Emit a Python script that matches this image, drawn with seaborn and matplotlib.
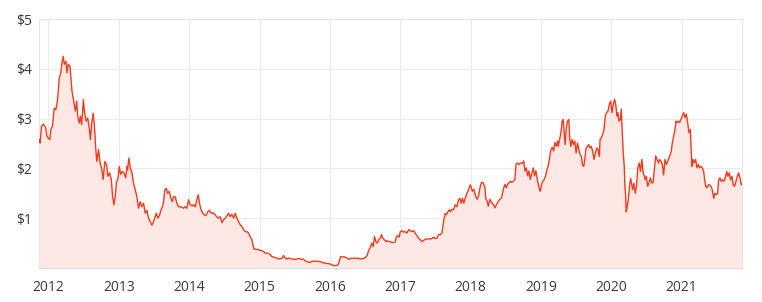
import matplotlib
matplotlib.use("Agg")
import matplotlib.pyplot as plt
import seaborn as sns
import pandas as pd

# decimal years
years = [
    2011.867, 2011.881, 2011.900, 2011.928, 2011.962, 2011.976, 2011.995, 2012.019, 2012.033, 2012.057,
    2012.081, 2012.105, 2012.129, 2012.153, 2012.176, 2012.191, 2012.210, 2012.224, 2012.248, 2012.262,
    2012.281, 2012.305, 2012.320, 2012.334, 2012.358, 2012.382, 2012.401, 2012.415, 2012.439, 2012.453,
    2012.472, 2012.496, 2012.510, 2012.534, 2012.558, 2012.582, 2012.596, 2012.615, 2012.634, 2012.653,
    2012.672, 2012.687, 2012.711, 2012.734, 2012.758, 2012.777, 2012.801, 2012.825, 2012.844, 2012.868,
    2012.892, 2012.911, 2012.930, 2012.949, 2012.968, 2012.987, 2013.006, 2013.025, 2013.049, 2013.073,
    2013.097, 2013.116,
    2013.124, 2013.143, 2013.162, 2013.186, 2013.209, 2013.233, 2013.257, 2013.280, 2013.304, 2013.328,
    2013.351, 2013.375, 2013.399, 2013.422, 2013.446, 2013.470, 2013.493, 2013.517, 2013.531, 2013.555,
    2013.579, 2013.598, 2013.621, 2013.635, 2013.654, 2013.673, 2013.692, 2013.716, 2013.740, 2013.759,
    2013.777, 2013.801, 2013.825, 2013.848, 2013.872, 2013.896, 2013.920, 2013.943, 2013.967, 2013.991,
    2014.014, 2014.038, 2014.062, 2014.085, 2014.109, 2014.128, 2014.147, 2014.170, 2014.194, 2014.218,
    2014.241, 2014.265, 2014.289, 2014.313, 2014.336,
    2014.347, 2014.370, 2014.394, 2014.418, 2014.441, 2014.465, 2014.489, 2014.512, 2014.536, 2014.560,
    2014.583, 2014.607, 2014.631, 2014.654, 2014.678, 2014.702, 2014.725, 2014.749, 2014.773, 2014.796,
    2014.820, 2014.844, 2014.867, 2014.891, 2014.905, 2014.920, 2014.938, 2014.962, 2014.986, 2015.009,
    2015.033, 2015.057, 2015.080, 2015.104, 2015.128, 2015.152, 2015.175, 2015.199, 2015.223, 2015.246,
    2015.270, 2015.294, 2015.317, 2015.341, 2015.365, 2015.388, 2015.412, 2015.436, 2015.459, 2015.483,
    2015.507, 2015.530, 2015.554,
    2015.574, 2015.598, 2015.621, 2015.645, 2015.669, 2015.692, 2015.716, 2015.740, 2015.763, 2015.787,
    2015.811, 2015.834, 2015.858, 2015.882, 2015.905, 2015.929, 2015.953, 2015.976, 2016.000, 2016.024,
    2016.047, 2016.071, 2016.095, 2016.118, 2016.133, 2016.152, 2016.175, 2016.199, 2016.223, 2016.246,
    2016.270, 2016.294, 2016.317, 2016.341, 2016.365, 2016.388, 2016.412, 2016.436, 2016.459, 2016.483,
    2016.507, 2016.530, 2016.545, 2016.559, 2016.578, 2016.597, 2016.616, 2016.634, 2016.653, 2016.672,
    2016.696, 2016.715, 2016.734, 2016.753, 2016.772, 2016.795,
    2016.811, 2016.834, 2016.858, 2016.882, 2016.905, 2016.929, 2016.943, 2016.962, 2016.986, 2017.000,
    2017.024, 2017.047, 2017.071, 2017.095, 2017.118, 2017.142, 2017.166, 2017.189, 2017.213, 2017.237,
    2017.260, 2017.284, 2017.308, 2017.331, 2017.355, 2017.379, 2017.402, 2017.426, 2017.450, 2017.473,
    2017.497, 2017.521, 2017.545, 2017.568, 2017.592, 2017.606, 2017.620, 2017.639, 2017.658, 2017.677,
    2017.696, 2017.715, 2017.734, 2017.758, 2017.781, 2017.805, 2017.829, 2017.848, 2017.866, 2017.885,
    2017.904, 2017.923, 2017.947, 2017.971, 2017.994, 2018.009,
    2018.024, 2018.047, 2018.071, 2018.095, 2018.118, 2018.137, 2018.156, 2018.180, 2018.204, 2018.218,
    2018.237, 2018.251, 2018.275, 2018.299, 2018.322, 2018.346, 2018.370, 2018.393, 2018.417, 2018.441,
    2018.464, 2018.488, 2018.507, 2018.526, 2018.545, 2018.564, 2018.583, 2018.607, 2018.630, 2018.645,
    2018.664, 2018.687, 2018.711, 2018.735, 2018.754, 2018.773, 2018.791, 2018.810, 2018.829, 2018.848,
    2018.867, 2018.891, 2018.910, 2018.929, 2018.948, 2018.972, 2018.991, 2019.009, 2019.028, 2019.047,
    2019.066, 2019.085, 2019.104, 2019.123, 2019.142, 2019.161, 2019.180, 2019.199, 2019.218, 2019.237,
    2019.245, 2019.264, 2019.283, 2019.302, 2019.316, 2019.330, 2019.344, 2019.358, 2019.377, 2019.396,
    2019.410, 2019.425, 2019.443, 2019.462, 2019.481, 2019.500, 2019.519, 2019.538, 2019.557, 2019.575,
    2019.590, 2019.608, 2019.623, 2019.642, 2019.660, 2019.679, 2019.698, 2019.717, 2019.736, 2019.755,
    2019.774, 2019.792, 2019.811, 2019.830, 2019.840, 2019.858, 2019.877, 2019.896, 2019.915, 2019.934,
    2019.953, 2019.972, 2019.991, 2020.009, 2020.028, 2020.047, 2020.066, 2020.080, 2020.094, 2020.108,
    2020.127, 2020.142, 2020.156, 2020.170, 2020.184, 2020.193, 2020.203, 2020.212, 2020.226, 2020.241,
    2020.259, 2020.274, 2020.288, 2020.302, 2020.321, 2020.340, 2020.358, 2020.377, 2020.396, 2020.415,
    2020.434, 2020.453, 2020.472,
    2020.479, 2020.498, 2020.517, 2020.536, 2020.555, 2020.574, 2020.593, 2020.612, 2020.631, 2020.650,
    2020.669, 2020.688, 2020.706, 2020.725, 2020.744, 2020.763, 2020.782, 2020.801, 2020.820, 2020.839,
    2020.853, 2020.867, 2020.886, 2020.905, 2020.920, 2020.934, 2020.953, 2020.972, 2020.991, 2021.009,
    2021.028, 2021.047, 2021.066, 2021.085, 2021.104, 2021.123, 2021.137, 2021.147, 2021.161, 2021.180,
    2021.199, 2021.218, 2021.237, 2021.256, 2021.275, 2021.294, 2021.313, 2021.327, 2021.341, 2021.360,
    2021.379, 2021.398, 2021.417, 2021.436, 2021.455, 2021.473, 2021.492, 2021.511, 2021.526, 2021.545,
    2021.563, 2021.582, 2021.601, 2021.620, 2021.639, 2021.658, 2021.677, 2021.696, 2021.715, 2021.734,
    2021.753, 2021.772, 2021.791, 2021.810, 2021.829, 2021.848, 2021.862,
]

# share price in dollars
prices = [
    2.58, 2.51, 2.85, 2.89, 2.81, 2.65, 2.61, 2.58, 2.78, 2.85,
    3.21, 3.18, 3.38, 3.82, 3.92, 4.12, 4.25, 4.09, 4.15, 3.92,
    4.09, 4.05, 3.78, 3.55, 3.35, 3.15, 3.35, 3.05, 2.91, 3.05,
    2.88, 3.38, 3.15, 2.95, 3.01, 2.78, 2.58, 2.91, 3.11, 2.85,
    2.38, 2.14, 2.38, 2.11, 1.98, 1.78, 2.14, 2.08, 1.84, 1.91,
    1.78, 1.44, 1.27, 1.44, 1.74, 1.78, 2.04, 1.88, 1.94, 1.91,
    1.81, 2.04,
    1.97, 2.21, 2.01, 1.91, 1.70, 1.57, 1.43, 1.20, 1.33, 1.23,
    1.30, 1.10, 1.16, 1.00, 0.93, 0.86, 0.93, 1.03, 1.10, 1.00,
    1.06, 1.16, 1.23, 1.33, 1.57, 1.60, 1.50, 1.54, 1.40, 1.33,
    1.43, 1.43, 1.30, 1.23, 1.23, 1.22, 1.20, 1.23, 1.20, 1.37,
    1.27, 1.25, 1.27, 1.23, 1.37, 1.47, 1.30, 1.16, 1.10, 1.06,
    1.06, 1.13, 1.16, 1.10, 1.11,
    1.10, 1.07, 1.02, 1.00, 1.03, 0.91, 0.97, 1.00, 1.05, 1.10,
    1.03, 1.08, 1.00, 1.10, 1.00, 0.93, 0.87, 0.83, 0.77, 0.73,
    0.73, 0.70, 0.63, 0.57, 0.47, 0.38, 0.38, 0.37, 0.37, 0.35,
    0.35, 0.33, 0.30, 0.30, 0.29, 0.27, 0.23, 0.22, 0.21, 0.20,
    0.18, 0.19, 0.19, 0.25, 0.20, 0.18, 0.20, 0.19, 0.18, 0.18,
    0.17, 0.18, 0.19,
    0.19, 0.17, 0.18, 0.15, 0.13, 0.12, 0.11, 0.13, 0.14, 0.13,
    0.14, 0.13, 0.13, 0.12, 0.10, 0.10, 0.09, 0.09, 0.08, 0.07,
    0.05, 0.05, 0.05, 0.07, 0.13, 0.23, 0.22, 0.23, 0.21, 0.20,
    0.17, 0.20, 0.19, 0.20, 0.19, 0.20, 0.19, 0.18, 0.19, 0.19,
    0.22, 0.25, 0.33, 0.37, 0.43, 0.50, 0.43, 0.63, 0.53, 0.50,
    0.57, 0.60, 0.67, 0.60, 0.57, 0.53,
    0.55, 0.53, 0.53, 0.51, 0.51, 0.53, 0.62, 0.65, 0.62, 0.73,
    0.75, 0.72, 0.73, 0.70, 0.77, 0.75, 0.73, 0.75, 0.70, 0.65,
    0.60, 0.57, 0.53, 0.55, 0.58, 0.58, 0.59, 0.58, 0.59, 0.62,
    0.59, 0.60, 0.67, 0.67, 0.70, 0.83, 0.97, 1.10, 1.07, 1.13,
    1.17, 1.13, 1.18, 1.17, 1.27, 1.23, 1.37, 1.40, 1.30, 1.40,
    1.30, 1.40, 1.50, 1.57, 1.67, 1.63,
    1.54, 1.58, 1.44, 1.38, 1.48, 1.64, 1.72, 1.71, 1.61, 1.38,
    1.34, 1.24, 1.38, 1.31, 1.28, 1.21, 1.28, 1.34, 1.38, 1.41,
    1.58, 1.68, 1.61, 1.68, 1.71, 1.74, 1.72, 1.74, 1.78, 2.08,
    2.11, 2.08, 2.11, 2.10, 2.15, 1.95, 2.01, 1.85, 1.95, 1.78,
    1.88, 2.01, 1.85, 1.95, 1.78, 1.61, 1.54, 1.68, 1.74, 1.78,
    1.85, 1.98, 2.05, 2.21, 2.38, 2.42, 2.35, 2.52, 2.45, 2.55,
    2.44, 2.58, 2.71, 2.95, 2.98, 2.71, 2.48, 2.78, 2.95, 2.98,
    2.58, 2.44, 2.58, 2.48, 2.55, 2.31, 2.51, 2.38, 2.28, 2.24,
    2.07, 2.04, 2.18, 2.41, 2.44, 2.48, 2.41, 2.44, 2.34, 2.18,
    2.31, 2.41, 2.38, 2.24, 2.58, 2.61, 2.68, 2.78, 3.05, 3.12,
    3.15, 3.29, 3.35, 3.12, 3.29, 3.39, 3.25, 3.05, 3.12, 2.95,
    2.98, 3.19, 2.71, 2.31, 2.04, 1.64, 1.47, 1.13, 1.23, 1.37,
    1.64, 1.80, 1.70, 1.57, 1.70, 1.50, 1.64, 2.01, 2.11, 1.94,
    2.18, 1.91, 1.84,
    1.77, 1.84, 1.64, 1.71, 1.81, 1.71, 1.71, 1.98, 2.25, 2.18,
    2.11, 2.18, 2.14, 2.08, 1.87, 2.18, 2.08, 2.14, 2.21, 2.28,
    2.35, 2.51, 2.65, 2.78, 2.95, 2.92, 2.95, 2.92, 2.99, 3.05,
    3.12, 3.02, 3.09, 2.92, 2.72, 2.78, 2.31, 2.04, 2.18, 2.11,
    2.18, 2.01, 2.08, 2.01, 2.04, 2.01, 1.94, 1.77, 1.64, 1.61,
    1.67, 1.67, 1.64, 1.57, 1.40, 1.50, 1.47, 1.50, 1.77, 1.81,
    1.74, 1.77, 1.74, 1.81, 1.94, 1.84, 1.91, 1.77, 1.84, 1.67,
    1.64, 1.74, 1.84, 1.91, 1.81, 1.67, 1.71,
]

tick_years = [2012, 2013, 2014, 2015, 2016, 2017, 2018, 2019, 2020, 2021]
y_ticks = [1, 2, 3, 4, 5]
y_labels = ["$1", "$2", "$3", "$4", "$5"]

df = pd.DataFrame({"year": years, "price": prices})

sns.set_theme(style="white")
plt.rcParams["font.family"] = ["Open Sans", "DejaVu Sans"]

fig = plt.figure(figsize=(7.62, 3.02), dpi=100)
ax = fig.add_axes([39 / 762, 34 / 302, 703.3 / 762, 249 / 302])

line_color = "#f23b1e"
ax.fill_between(df["year"], df["price"], 0, color="#fde8e5", lw=0, zorder=1)
sns.lineplot(data=df, x="year", y="price", ax=ax, color=line_color, lw=1.0, zorder=3)

ax.set_xlim(min(years) - 0.002, max(years))
ax.set_ylim(0, 5)
ax.set_xticks(tick_years)
ax.set_xticklabels([str(y) for y in tick_years])
ax.set_yticks(y_ticks)
ax.set_yticklabels(y_labels)
ax.set_xlabel("")
ax.set_ylabel("")

ax.grid(True, color="#ebebeb", lw=0.8, zorder=0)
ax.set_axisbelow(True)
for s in ax.spines.values():
    s.set_color("#e6e6e6")
    s.set_linewidth(0.8)
ax.spines["bottom"].set_color("#dcdcdc")

ax.tick_params(axis="both", length=0, labelsize=10, labelcolor="#3a3a3a")
ax.tick_params(axis="x", pad=8.5)
ax.tick_params(axis="y", pad=5)

fig.savefig("out.png", dpi=100)
